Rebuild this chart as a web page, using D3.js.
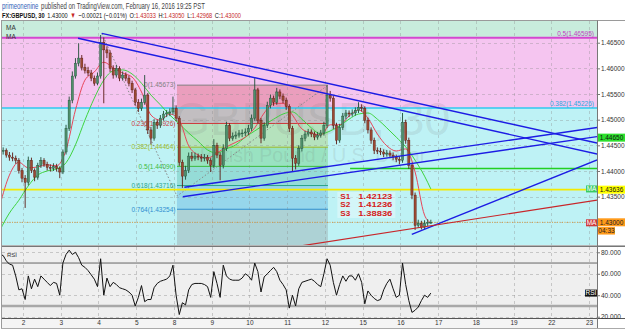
<!DOCTYPE html>
<html><head><meta charset="utf-8">
<script src="https://cdn.jsdelivr.net/npm/d3@7/dist/d3.min.js"></script>
<style>body{margin:0;background:#fff}svg{display:block;font-family:"Liberation Sans",Arial,sans-serif}</style>
</head><body><svg id="c" width="625" height="330"></svg>
<script>
// ---------- DATA ----------
const dayLabels = ["2","3","4","5","8","9","10","11","12","15","16","17","18","19","22","23"];
const firstBarDay = -0.61;   // trading-day offset of first 2h bar relative to Feb 2
const barsPerDay = 12;
const firstOpen = 1.4442;
const closes = [1.4440,1.4440,1.4431,1.4427,1.4425,1.4421,1.4401,1.4386,1.4378,1.4421,
 1.4401,1.4388,1.4411,1.4421,1.4413,1.4407,1.4405,1.4409,1.4405,1.4398,
 1.4437,1.4483,1.4538,1.4585,1.4610,1.4620,1.4602,1.4596,1.4591,1.4581,
 1.4571,1.4585,1.4651,1.4636,1.4630,1.4600,1.4587,1.4600,1.4581,1.4587,
 1.4581,1.4571,1.4558,1.4534,1.4522,1.4534,1.4548,1.4480,1.4464,1.4495,
 1.4489,1.4503,1.4511,1.4513,1.4515,1.4522,1.4503,1.4417,1.4390,1.4401,
 1.4429,1.4425,1.4429,1.4427,1.4425,1.4427,1.4421,1.4411,1.4450,1.4431,
 1.4411,1.4444,1.4489,1.4464,1.4468,1.4470,1.4474,1.4474,1.4476,1.4483,
 1.4503,1.4558,1.4499,1.4464,1.4489,1.4528,1.4542,1.4534,1.4554,1.4546,
 1.4538,1.4526,1.4483,1.4425,1.4415,1.4444,1.4464,1.4472,1.4476,1.4472,
 1.4466,1.4470,1.4474,1.4489,1.4548,1.4542,1.4489,1.4460,1.4485,1.4507,
 1.4513,1.4511,1.4513,1.4518,1.4524,1.4522,1.4499,1.4480,1.4460,1.4440,
 1.4439,1.4437,1.4433,1.4435,1.4431,1.4427,1.4423,1.4421,1.4495,1.4460,
 1.4411,1.4353,1.4294,1.4298,1.4290,1.4298,1.4300,1.4300];
const highs = [1.4449,1.4446,1.4444,1.4437,1.4436,1.4430,1.4425,1.4406,1.4392,1.4428,
 1.4426,1.4405,1.4416,1.4427,1.4425,1.4418,1.4413,1.4415,1.4414,1.4409,
 1.4442,1.4490,1.4545,1.4594,1.4620,1.4649,1.4626,1.4609,1.4603,1.4597,
 1.4586,1.4592,1.4665,1.4660,1.4643,1.4635,1.4606,1.4607,1.4604,1.4594,
 1.4592,1.4586,1.4576,1.4562,1.4540,1.4541,1.4587,1.4552,1.4486,1.4501,
 1.4500,1.4509,1.4517,1.4519,1.4522,1.4545,1.4528,1.4507,1.4422,1.4410,
 1.4436,1.4437,1.4436,1.4434,1.4433,1.4433,1.4431,1.4425,1.4462,1.4455,
 1.4436,1.4452,1.4496,1.4493,1.4475,1.4477,1.4480,1.4481,1.4483,1.4490,
 1.4510,1.4581,1.4562,1.4503,1.4495,1.4535,1.4549,1.4547,1.4562,1.4559,
 1.4551,1.4543,1.4530,1.4488,1.4431,1.4450,1.4470,1.4478,1.4482,1.4481,
 1.4477,1.4476,1.4480,1.4496,1.4567,1.4556,1.4546,1.4494,1.4492,1.4513,
 1.4519,1.4518,1.4520,1.4524,1.4534,1.4530,1.4526,1.4504,1.4485,1.4465,
 1.4446,1.4445,1.4442,1.4441,1.4440,1.4436,1.4432,1.4429,1.4513,1.4500,
 1.4465,1.4416,1.4358,1.4305,1.4303,1.4304,1.4306,1.4305];
const lows = [1.4434,1.4432,1.4426,1.4420,1.4419,1.4414,1.4395,1.4378,1.4328,1.4372,
 1.4396,1.4380,1.4383,1.4406,1.4408,1.4401,1.4399,1.4400,1.4399,1.4386,
 1.4394,1.4432,1.4478,1.4532,1.4580,1.4604,1.4596,1.4590,1.4585,1.4575,
 1.4566,1.4567,1.4580,1.4532,1.4620,1.4593,1.4580,1.4582,1.4575,1.4576,
 1.4575,1.4565,1.4552,1.4527,1.4515,1.4517,1.4529,1.4472,1.4452,1.4459,
 1.4482,1.4484,1.4498,1.4505,1.4507,1.4510,1.4497,1.4410,1.4367,1.4383,
 1.4396,1.4419,1.4420,1.4421,1.4418,1.4419,1.4414,1.4398,1.4406,1.4425,
 1.4382,1.4405,1.4439,1.4458,1.4459,1.4462,1.4465,1.4466,1.4468,1.4470,
 1.4478,1.4498,1.4492,1.4454,1.4459,1.4484,1.4522,1.4527,1.4529,1.4540,
 1.4532,1.4519,1.4476,1.4398,1.4403,1.4410,1.4438,1.4458,1.4467,1.4466,
 1.4460,1.4461,1.4465,1.4469,1.4484,1.4535,1.4482,1.4452,1.4455,1.4480,
 1.4501,1.4505,1.4506,1.4508,1.4513,1.4516,1.4493,1.4473,1.4453,1.4433,
 1.4433,1.4431,1.4427,1.4428,1.4425,1.4421,1.4417,1.4413,1.4416,1.4453,
 1.4404,1.4345,1.4285,1.4289,1.4286,1.4287,1.4293,1.4297];
// moving averages sampled every 3rd bar (+ last bar)
const maFast = [1.4334,1.4392,1.4417,1.4406,1.4408,1.4412,1.4410,1.4441,1.4519,1.4577,
 1.4593,1.4612,1.4601,1.4591,1.4583,1.4554,1.4509,1.4499,1.4511,1.4499,
 1.4449,1.4431,1.4425,1.4435,1.4447,1.4456,1.4466,1.4484,1.4513,1.4531,
 1.4532,1.4509,1.4482,1.4474,1.4470,1.4490,1.4490,1.4507,1.4519,1.4503,
 1.4472,1.4449,1.4439,1.4443,1.4398,1.4314,1.4299];
const maSlow = [1.4285,1.4318,1.4343,1.4371,1.4392,1.4400,1.4404,1.4416,1.4451,1.4499,
 1.4542,1.4577,1.4595,1.4597,1.4589,1.4571,1.4548,1.4529,1.4509,1.4492,
 1.4474,1.4458,1.4441,1.4435,1.4443,1.4451,1.4466,1.4478,1.4490,1.4501,
 1.4511,1.4515,1.4501,1.4484,1.4472,1.4478,1.4488,1.4501,1.4511,1.4513,
 1.4501,1.4484,1.4466,1.4447,1.4421,1.4390,1.4365];
const rsi = [78,77,72,69,68,58,45,46,36,58,
 46,55,48,58,55,52,49,52,51,40,
 70,78,82,78,80,75,68,66,63,59,
 55,48,74,40,56,48,52,50,47,46,
 45,43,40,30,38,49,34,36,36,47,
 51,53,54,55,58,68,40,22,33,31,
 45,50,51,51,51,50,48,38,62,51,
 38,68,58,55,54,54,54,56,60,58,
 54,70,62,43,57,60,63,66,62,54,
 50,45,28,40,30,46,52,53,54,55,
 53,50,48,60,74,68,52,40,50,58,
 53,58,58,54,60,52,32,44,40,37,
 35,36,45,51,55,46,38,40,70,50,
 35,24,26,29,35,40,38,42];
const priceGrid = [1.430,1.435,1.440,1.445,1.450,1.455,1.460,1.465];
const priceTickLabels = [1.435,1.440,1.445,1.450,1.455,1.460,1.465];
const rsiTicks = [20,40,60,80];
const rsiLevels = [70,30];
const bandLevels = [{ratio:"0.5", price:1.46595},{ratio:"0.382", price:1.45226}];
const fibAnchors = {A:{day:2.09, price:1.46676}, B:{day:4.08, price:1.43510}, C:{day:8.08, price:1.45673}};
const fibRatios = [0,0.236,0.382,0.5,0.618,0.764,1];
const trendLines = [ // [day1, price1, day2, price2]
  [1.458,1.46586,15.213,1.44331],
  [2.086,1.46683,15.213,1.44545],
  [4.275,1.43682,15.213,1.44847],
  [4.233,1.43498,15.213,1.44670],
  [10.302,1.42766,15.213,1.44214]];
const redLine = [7.342,1.42538,15.213,1.43434];
const yellowLevel = 1.43636;
const greenLevel = {fromDay:8.667, price:1.44050};
const greenRayPrice = 1.44650;
const lastPrice = 1.43000;
const countdown = "04:33";
const supports = [["S1","1.42123"],["S2","1.41236"],["S3","1.38836"]];
const headerLine1 = [["primeonenine","#2f63b8"],["published on TradingView.com, February 16, 2016 19:25 PST","#444"]];
const headerLine2 = [["FX:GBPUSD, 30","#111","bold"],["1.43000","#111"],["▼","#c62828"],["−0.00021 (−0.01%)","#111"],
  ["O:1.43033","#c62828"],["H:1.43050","#c62828"],["L:1.42968","#c62828"],["C:1.43000","#c62828"]];

// ---------- SCALES ----------
const svg = d3.select("#c");
const x = d3.scaleLinear().domain([-0.61, 15.21]).range([0, 597]);
const y = d3.scaleLinear().domain([1.43, 1.465]).range([222.3, 42.7]);
const r = d3.scaleLinear().domain([20, 80]).range([316.7, 252.3]);
const barDay = i => firstBarDay + i / barsPerDay;
const PL = 2, PR = 597, MT = 21, MB = 245, RT = 247, RB = 318;

const defs = svg.append("defs");
defs.append("clipPath").attr("id","mc").append("rect").attr("x",PL).attr("y",MT).attr("width",PR-PL).attr("height",MB-MT);
defs.append("clipPath").attr("id","rc").append("rect").attr("x",PL).attr("y",RT).attr("width",PR-PL).attr("height",RB-RT);

function txt(g, s, xx, yy, opt) {
  const t = g.append("text").attr("x", xx).attr("y", yy).text(s)
    .attr("font-size", opt.size || 8).attr("fill", opt.fill || "#333");
  if (opt.weight) t.attr("font-weight", opt.weight);
  if (opt.anchor) t.attr("text-anchor", opt.anchor);
  if (opt.len) t.attr("textLength", opt.len).attr("lengthAdjust","spacingAndGlyphs");
  return t;
}

// ---------- HEADER (laid out sequentially, then squeezed horizontally) ----------
function headerLine(parts, yy, size, targetW) {
  const g = svg.append("g");
  let cur = 0;
  parts.forEach(p => {
    const t = g.append("text").attr("x", cur).attr("y", 0).attr("font-size", size).attr("fill", p[1]).text(p[0]);
    if (p[2]) t.attr("font-weight", p[2]);
    if (/^[OHLC]:/.test(p[0])) {
      t.text(null);
      t.append("tspan").attr("fill","#111").text(p[0].slice(0,2));
      t.append("tspan").text(p[0].slice(2));
    }
    cur += t.node().getComputedTextLength() + size * 0.45;
  });
  const total = cur - size * 0.45;
  g.attr("transform", `translate(2,${yy}) scale(${targetW/total},1)`);
}
headerLine(headerLine1, 8.5, 8.5, 203);
headerLine(headerLine2, 17.5, 8, 239);

// ---------- MAIN PANE ----------
const main = svg.append("g").attr("clip-path","url(#mc)");
const yA = y(bandLevels[0].price), yB = y(bandLevels[1].price);
main.append("rect").attr("x",PL).attr("y",MT).attr("width",PR-PL).attr("height",yA-MT).attr("fill","#c8ecdc");
main.append("rect").attr("x",PL).attr("y",yA).attr("width",PR-PL).attr("height",yB-yA).attr("fill","#f5c5f0");
main.append("rect").attr("x",PL).attr("y",yB).attr("width",PR-PL).attr("height",MB-yB).attr("fill","#bef2f5");

// fib extension box
const fibColors = ["#808080","#cc3b3b","#9dbb2a","#3bbb3b","#2aa58a","#2f8fd0","#808080"];
const fx0 = x(fibAnchors.B.day), fx1 = x(fibAnchors.C.day);
const fRange = fibAnchors.A.price - fibAnchors.B.price;
const fibPrices = fibRatios.map(k => fibAnchors.C.price - k * fRange);
for (let k = 1; k < fibRatios.length; k++) {
  const ya = y(fibPrices[k-1]), yb = y(fibPrices[k]);
  main.append("rect").attr("x",fx0).attr("y",ya).attr("width",fx1-fx0).attr("height",yb-ya)
    .attr("fill",fibColors[k]).attr("fill-opacity",0.28);
}

// grid
const grid = main.append("g").attr("stroke","#8a8a8a").attr("stroke-opacity",0.35).attr("stroke-dasharray","3,3").attr("stroke-width",1);
d3.range(dayLabels.length).forEach(d => grid.append("line").attr("x1",Math.round(x(d))+0.5).attr("x2",Math.round(x(d))+0.5).attr("y1",MT).attr("y2",MB));
priceGrid.forEach(p => grid.append("line").attr("x1",PL).attr("x2",PR).attr("y1",Math.round(y(p))+0.5).attr("y2",Math.round(y(p))+0.5));

// watermark
main.append("text").attr("x",312).attr("y",135).attr("text-anchor","middle").attr("font-size",47)
  .attr("fill","#6e6e6e").attr("fill-opacity",0.15).text("GBPUSD, 30");
main.append("text").attr("x",313).attr("y",162).attr("text-anchor","middle").attr("font-size",19.5)
  .attr("fill","#6e6e6e").attr("fill-opacity",0.15).text("British Pound / U.S. Dollar");

// band level lines + labels
main.append("line").attr("x1",PL).attr("x2",PR).attr("y1",yA).attr("y2",yA).attr("stroke","#d447d0").attr("stroke-width",2);
main.append("line").attr("x1",PL).attr("x2",PR).attr("y1",yB).attr("y2",yB).attr("stroke","#2ec8ef").attr("stroke-width",1.5);
txt(main, `${bandLevels[0].ratio}(${bandLevels[0].price.toFixed(5)})`, 594, yA-2, {fill:"#c040c0", size:6.5, anchor:"end"});
txt(main, `${bandLevels[1].ratio}(${bandLevels[1].price.toFixed(5)})`, 594, yB-2, {fill:"#2aa8dd", size:6.5, anchor:"end"});

// fib level lines & labels
fibRatios.forEach((k,i) => {
  const yy = y(fibPrices[i]);
  main.append("line").attr("x1",fx0).attr("x2",fx1).attr("y1",yy).attr("y2",yy).attr("stroke",fibColors[i]).attr("stroke-width",1);
  txt(main, `${k}(${fibPrices[i].toFixed(5)})`, fx0-1.5, yy+2.3, {fill:fibColors[i], size:6.5, anchor:"end"});
});
// fib anchor dotted path
main.append("path").attr("d", d3.line()([[x(fibAnchors.A.day),y(fibAnchors.A.price)],[x(fibAnchors.B.day),y(fibAnchors.B.price)],[x(fibAnchors.C.day),y(fibAnchors.C.price)]]))
  .attr("fill","none").attr("stroke","#8a8a8a").attr("stroke-width",1).attr("stroke-dasharray","1.5,2");

// horizontal lines
main.append("line").attr("x1",PL).attr("x2",PR).attr("y1",y(yellowLevel)).attr("y2",y(yellowLevel)).attr("stroke","#f4ea00").attr("stroke-width",1.6);
main.append("line").attr("x1",x(greenLevel.fromDay)).attr("x2",PR).attr("y1",y(greenLevel.price)).attr("y2",y(greenLevel.price)).attr("stroke","#22d022").attr("stroke-width",1.5);
main.append("line").attr("x1",PL).attr("x2",PR).attr("y1",y(lastPrice)).attr("y2",y(lastPrice)).attr("stroke","#d99a3c").attr("stroke-width",1).attr("stroke-dasharray","1,1.5");

// moving averages
const maIdx = d3.range(0, closes.length - 2, 3).concat([closes.length - 1]);
const maLine = d3.line().x((v,i) => x(barDay(maIdx[i]))).y(v => y(v)).curve(d3.curveMonotoneX);
main.append("path").attr("d", maLine(maSlow)).attr("fill","none").attr("stroke","#3fd33f").attr("stroke-width",1);
main.append("path").attr("d", maLine(maFast)).attr("fill","none").attr("stroke","#e8455a").attr("stroke-width",1);

// candles
const cg = main.append("g");
closes.forEach((c,i) => {
  const o = i === 0 ? firstOpen : closes[i-1];
  const up = c >= o;
  const cx = x(barDay(i));
  cg.append("line").attr("x1",cx).attr("x2",cx).attr("y1",y(highs[i])).attr("y2",y(lows[i]))
    .attr("stroke", up ? "#1f4d35" : "#5b1a13").attr("stroke-width",0.9);
  const top = y(Math.max(o,c)), bot = y(Math.min(o,c));
  cg.append("rect").attr("x",cx-1.1).attr("width",2.2).attr("y",top).attr("height",Math.max(0.8,bot-top))
    .attr("fill", up ? "#4f8f6a" : "#9a4a33").attr("stroke", up ? "#1f4d35" : "#5b1a13").attr("stroke-width",0.4);
});

// trend lines
trendLines.forEach(t => {
  main.append("line").attr("x1",x(t[0])).attr("y1",y(t[1])).attr("x2",x(t[2])).attr("y2",y(t[3]))
    .attr("stroke","#1c1ce4").attr("stroke-width",1.4);
});
main.append("line").attr("x1",x(redLine[0])).attr("y1",y(redLine[1])).attr("x2",x(redLine[2])).attr("y2",y(redLine[3]))
  .attr("stroke","#c8262a").attr("stroke-width",1.2);

// support text box
const sx = x(8.33), sy = y(1.4365);
main.append("rect").attr("x",sx).attr("y",sy+3).attr("width",58).attr("height",26).attr("fill","#ffffff").attr("fill-opacity",0.35);
supports.forEach((s,i) => {
  txt(main, s[0], sx+3, sy+10.2+i*8.3, {fill:"#d41c1c", size:7, weight:"bold", len:10});
  txt(main, s[1], sx+21, sy+10.2+i*8.3, {fill:"#d41c1c", size:7, weight:"bold", len:34});
});

// MA legend labels
txt(svg, "MA", 6, 30, {fill:"#333", size:6.5});
txt(svg, "MA", 6, 38.5, {fill:"#333", size:6.5});

// ---------- RSI PANE ----------
svg.append("rect").attr("x",PL).attr("y",RT).attr("width",PR-PL).attr("height",RB-RT).attr("fill","#efefef");
const rp = svg.append("g").attr("clip-path","url(#rc)");
const rgrid = rp.append("g").attr("stroke","#8a8a8a").attr("stroke-opacity",0.4).attr("stroke-dasharray","3,3");
d3.range(dayLabels.length).forEach(d => rgrid.append("line").attr("x1",Math.round(x(d))+0.5).attr("x2",Math.round(x(d))+0.5).attr("y1",RT).attr("y2",RB));
rsiTicks.forEach(v => rgrid.append("line").attr("x1",PL).attr("x2",PR).attr("y1",Math.round(r(v))+0.5).attr("y2",Math.round(r(v))+0.5));
rp.append("line").attr("x1",PL).attr("x2",PR).attr("y1",r(rsiLevels[0])).attr("y2",r(rsiLevels[0])).attr("stroke","#666").attr("stroke-width",1);
rp.append("line").attr("x1",PL).attr("x2",PR).attr("y1",r(rsiLevels[1])).attr("y2",r(rsiLevels[1])).attr("stroke","#a8a8a8").attr("stroke-width",2.5);
rp.append("path").attr("d", d3.line().x((v,i) => x(barDay(i))).y(v => r(v))(rsi))
  .attr("fill","none").attr("stroke","#111").attr("stroke-width",1);
txt(svg, "RSI", 7, 257, {fill:"#333", size:6});

// ---------- FRAME / SEPARATORS ----------
svg.append("line").attr("x1",1).attr("x2",625).attr("y1",20.5).attr("y2",20.5).attr("stroke","#9a9a9a");
svg.append("line").attr("x1",1.5).attr("x2",1.5).attr("y1",20.5).attr("y2",328).attr("stroke","#9a9a9a");
svg.append("rect").attr("x",PL).attr("y",MB).attr("width",623).attr("height",2).attr("fill","#b5b5b5");
svg.append("line").attr("x1",PL).attr("x2",625).attr("y1",246.5).attr("y2",246.5).attr("stroke","#777");
svg.append("rect").attr("x",PL).attr("y",RB).attr("width",PR-PL).attr("height",10).attr("fill","#f4f4f4");
svg.append("line").attr("x1",PL).attr("x2",625).attr("y1",RB+0.5).attr("y2",RB+0.5).attr("stroke","#555");
svg.append("line").attr("x1",1).attr("x2",625).attr("y1",328.5).attr("y2",328.5).attr("stroke","#aaa");
svg.append("line").attr("x1",PR+0.5).attr("x2",PR+0.5).attr("y1",20.5).attr("y2",328).attr("stroke","#777");

// ---------- AXES ----------
const pa = svg.append("g").attr("transform",`translate(${PR},0)`)
  .call(d3.axisRight(y).tickValues(priceTickLabels).tickFormat(d => d.toFixed(5)).tickSize(3).tickPadding(1));
const ra = svg.append("g").attr("transform",`translate(${PR},0)`)
  .call(d3.axisRight(r).tickValues(rsiTicks).tickFormat(d => d.toFixed(3)).tickSize(3).tickPadding(1));
const ta = svg.append("g").attr("transform",`translate(0,${RB})`)
  .call(d3.axisBottom(x).tickValues(d3.range(dayLabels.length)).tickFormat(i => dayLabels[i]).tickSize(0).tickPadding(2));
[pa,ra,ta].forEach(a => {
  a.select(".domain").remove();
  a.selectAll("text").attr("font-size",6.5).attr("fill","#333").attr("font-family","Liberation Sans, Arial, sans-serif");
  a.selectAll("line").attr("stroke","#777");
});

// axis tags
function tag(yy, text, bg, fg, x0, w, h) {
  svg.append("rect").attr("x",x0).attr("y",yy-h/2).attr("width",w).attr("height",h).attr("fill",bg);
  svg.append("text").attr("x",x0+w/2).attr("y",yy+2.3).attr("text-anchor","middle").attr("font-size",6.5).attr("fill",fg).text(text);
}
tag(y(greenRayPrice), greenRayPrice.toFixed(5), "#2de02d", "#111", 598, 27, 8);
tag(y(yellowLevel), yellowLevel.toFixed(5), "#ffff00", "#111", 598, 27, 8);
tag(y(maSlow[maSlow.length-1]), "MA", "#3acb63", "#fff", 586, 11, 7);
tag(y(lastPrice), lastPrice.toFixed(5), "#ff9a1a", "#222", 598, 27, 8);
tag(y(lastPrice)+8.5, countdown, "#ff9a1a", "#222", 598, 17, 7.5);
tag(y(maFast[maFast.length-1]), "MA", "#d03a3a", "#fff", 586, 11, 7);
tag(r(rsi[rsi.length-1]), "RSI", "#111", "#fff", 585, 12, 7);
</script></body></html>
